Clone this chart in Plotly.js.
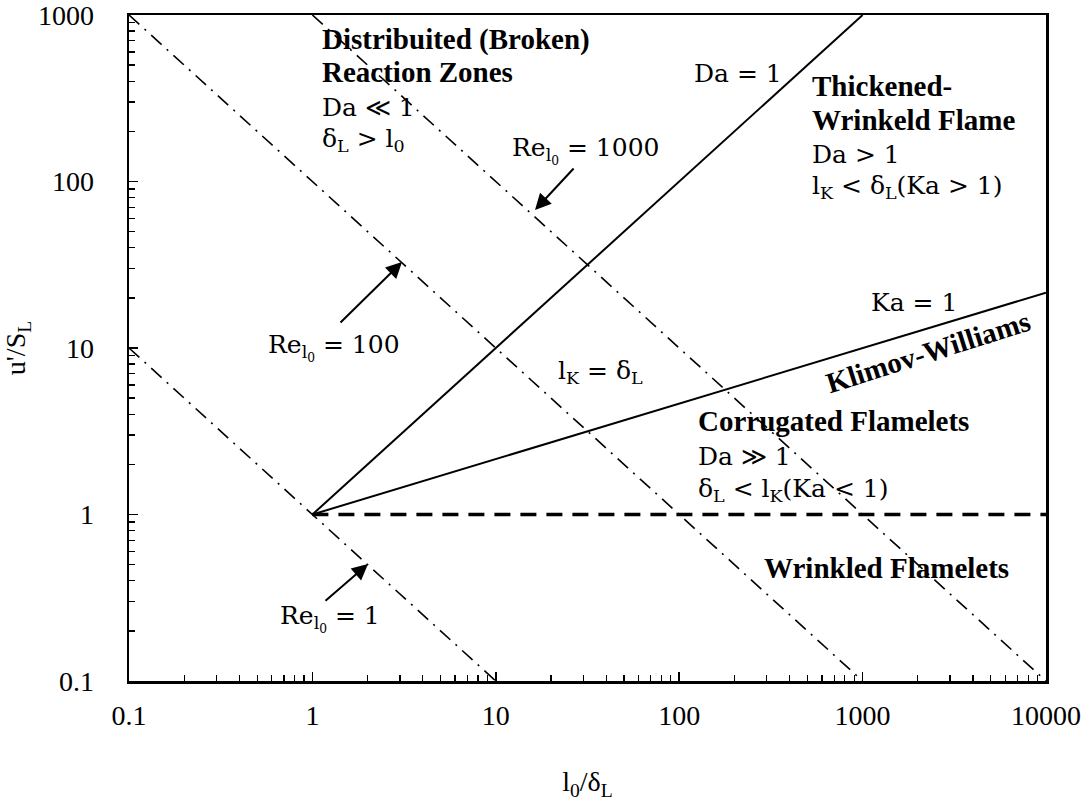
<!DOCTYPE html>
<html>
<head>
<meta charset="utf-8">
<script src="https://cdn.plot.ly/plotly-3.0.1.min.js"></script>
<style>html,body{margin:0;padding:0;background:#fff;}#chart{width:1088px;height:803px;}</style>
</head>
<body>
<div id="chart"></div>
<script>
// Regime lines (x = l0/deltaL, y = u'/SL)
const re1X = [0.1, 10];       const re1Y = [10, 0.1];
const re100X = [0.1, 1000];   const re100Y = [1000, 0.1];
const re1000X = [1, 10000];   const re1000Y = [1000, 0.1];
const da1X = [1, 1000];       const da1Y = [1, 1000];
const ka1X = [1, 10000];      const ka1Y = [1, 21.5];
const flatX = [1, 10000];     const flatY = [1, 1];

const xTickVals = [0.1, 1, 10, 100, 1000, 10000];
const xTickText = ['0.1', '1', '10', '100', '1000', '10000'];
const yTickVals = [0.1, 1, 10, 100, 1000];
const yTickText = ['0.1', '1', '10', '100', '1000'];

const SERIF = '"Liberation Serif", "Times New Roman", serif';
const MATH = '"DejaVu Serif", serif';

const dashDot = {color: 'black', width: 1.6, dash: '14px,7px,2px,7px'};
const solid = {color: 'black', width: 2};
const dashed = {color: 'black', width: 3.5, dash: '16px,10px'};

const traces = [
  {x: re1X, y: re1Y, line: dashDot},
  {x: re100X, y: re100Y, line: dashDot},
  {x: re1000X, y: re1000Y, line: dashDot},
  {x: da1X, y: da1Y, line: solid},
  {x: ka1X, y: ka1Y, line: solid},
  {x: flatX, y: flatY, line: dashed}
].map(t => Object.assign({type: 'scatter', mode: 'lines', hoverinfo: 'skip', showlegend: false}, t));

// pixel -> log-axis coordinate helpers (plot area 129..1046 x 15..681)
const L = 129, R = 1046, T = 15, B = 681;
const px2x = px => -1 + 5 * (px - L) / (R - L);
const px2y = py => 3 - 4 * (py - T) / (B - T);

function label(text, px, py, opts) {
  return Object.assign({
    text: text, x: px2x(px), y: px2y(py), xref: 'x', yref: 'y',
    xanchor: 'left', yanchor: 'middle', showarrow: false,
    font: {family: MATH, size: 25, color: 'black'}
  }, opts || {});
}
const boldFont = {family: SERIF, size: 29, color: 'black', weight: 'bold'};
function bold(text, px, py, opts) {
  return label(text, px, py, Object.assign({font: boldFont}, opts || {}));
}
function arrow(hx, hy, tx, ty) {
  return {text: '', x: px2x(hx), y: px2y(hy), xref: 'x', yref: 'y',
    ax: tx - hx, ay: ty - hy, showarrow: true, arrowhead: 2, arrowsize: 1.6,
    arrowwidth: 2, arrowcolor: 'black', standoff: 0, startstandoff: 0};
}

const annotations = [
  bold('Distribuited (Broken)', 320, 39),
  bold('Reaction Zones', 320, 72),
  label('Da ≪ 1', 320, 107),
  label('δ<sub>L</sub> > l<sub>0</sub>', 320, 140),
  label('Re<sub>l<sub>0</sub></sub> = 1000', 510, 150),
  arrow(535, 210, 575, 167),
  label('Da = 1', 692, 73),
  bold('Thickened-', 810, 86),
  bold('Wrinkeld Flame', 810, 120),
  label('Da > 1', 810, 154),
  label('l<sub>K</sub> < δ<sub>L</sub>(Ka > 1)', 810, 187),
  label('Re<sub>l<sub>0</sub></sub> = 100', 266, 347),
  arrow(402, 262, 339, 324),
  label('l<sub>K</sub> = δ<sub>L</sub>', 556, 372),
  label('Ka = 1', 869, 302),
  bold('Klimov-Williams', 928, 352, {xanchor: 'center', textangle: -17.5}),
  bold('Corrugated Flamelets', 696, 421),
  label('Da ≫ 1', 696, 456),
  label('δ<sub>L</sub> < l<sub>K</sub>(Ka < 1)', 696, 490),
  bold('Wrinkled Flamelets', 762, 568),
  label('Re<sub>l<sub>0</sub></sub> = 1', 278, 618),
  arrow(368, 564, 324, 602)
];

const axisCommon = {
  type: 'log', showgrid: false, zeroline: false,
  showline: true, linecolor: 'black', linewidth: 2.5, mirror: true,
  ticks: 'inside', ticklen: 9, tickwidth: 1.5, tickcolor: 'black',
  tickfont: {family: SERIF, size: 28, color: 'black'},
  ticklabeloverflow: 'allow',
  minor: {ticks: 'inside', ticklen: 6, tickwidth: 1.3, tickcolor: 'black', dtick: 'D1', showgrid: false},
  fixedrange: true
};

const layout = {
  width: 1088, height: 803,
  margin: {l: L, r: 1088 - R, t: T, b: 803 - B},
  paper_bgcolor: 'white', plot_bgcolor: 'white',
  showlegend: false,
  font: {family: SERIF, color: 'black'},
  xaxis: Object.assign({}, axisCommon, {
    range: [-1.00001, 4.00001], tickmode: 'array', tickvals: xTickVals, ticktext: xTickText,
    ticklabelstandoff: 8,
    title: {text: 'l<sub>0</sub>/δ<sub>L</sub>', font: {family: SERIF, size: 28, color: 'black'}, standoff: 42}
  }),
  yaxis: Object.assign({}, axisCommon, {
    range: [-1.00001, 3.00001], tickmode: 'array', tickvals: yTickVals, ticktext: yTickText,
    ticklabelstandoff: 27,
    title: {text: "u'/S<sub>L</sub>", font: {family: SERIF, size: 28, color: 'black'}, standoff: 13}
  }),
  annotations: annotations
};

Plotly.newPlot('chart', traces, layout, {staticPlot: true, displayModeBar: false});
</script>
</body>
</html>
